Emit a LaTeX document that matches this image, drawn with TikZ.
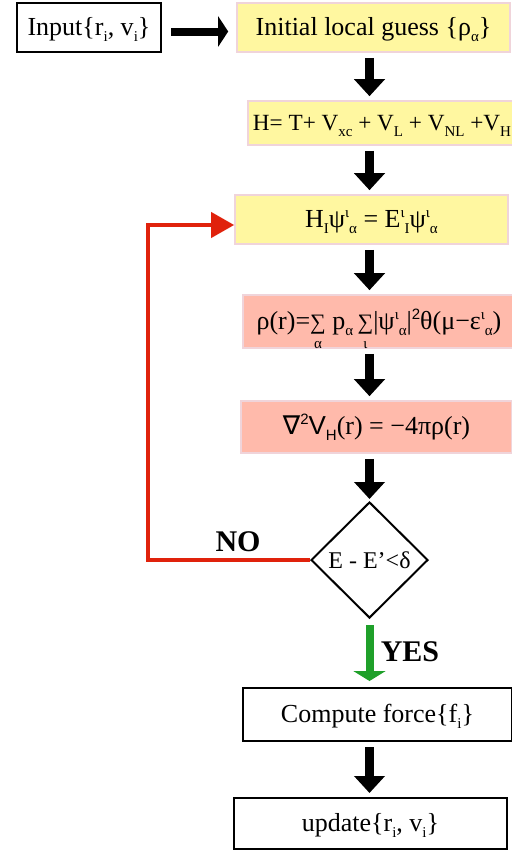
\documentclass[tikz,border=0pt]{standalone}
\usepackage{amsmath}
\usepackage{fontspec}
\setmainfont{Liberation Serif}
\newfontfamily\dejavu{DejaVu Sans}
\newfontfamily\sansf{Liberation Sans}
\usetikzlibrary{arrows.meta,positioning,shapes.geometric}
\definecolor{boxyellow}{HTML}{FFF7A0}
\definecolor{boxpink}{HTML}{F0D4DA}
\definecolor{boxsalmon}{HTML}{FFBAAB}
\definecolor{loopred}{HTML}{E0220C}
\definecolor{yesgreen}{HTML}{1FA02A}
\newcommand{\lo}[1]{\raisebox{-3pt}{\fontsize{7.5}{8}\selectfont #1}}
\newcommand{\hi}[1]{\raisebox{5pt}{\fontsize{7.5}{8}\selectfont #1}}
\newcommand{\bigsum}[1]{\mathop{\text{\fontsize{11}{12}\selectfont ∑}}\limits_{\text{\fontsize{7.5}{8}\selectfont #1}}}

\begin{document}
\begin{tikzpicture}[x=0.5pt,y=-0.5pt,font=\fontsize{13}{15}\selectfont,
plainbox/.style={draw=black,line width=1pt,inner sep=0pt,text height=10pt,text depth=2.5pt},
yellowbox/.style={draw=boxpink,fill=boxyellow,line width=0.8pt,inner sep=0pt,text height=10pt,text depth=2.5pt},
salmonbox/.style={draw=boxpink,fill=boxsalmon,line width=0.8pt,inner sep=0pt,text height=10pt,text depth=2.5pt},
flow/.style={-{Triangle[length=8.5pt,width=15pt]},line width=4.5pt,shorten <=2.5pt,shorten >=2pt},
answer/.style={font=\fontsize{15}{17}\selectfont\bfseries}]
\useasboundingbox (0,0) rectangle (512,852);
% boxes of the loop
\node[plainbox,minimum width=72pt,minimum height=24.5pt] (input) at (89,27.5) {Input\{r\lo{i}, v\lo{i}\}};
\node[yellowbox,minimum width=136.5pt,minimum height=24.5pt] (init) at (373.5,27.5) {Initial local guess \{ρ\lo{α}\}};
\node[yellowbox,minimum width=134pt,minimum height=22pt,font=\fontsize{11.6}{14}\selectfont] (ham) at (382,123) {H= T+ V\lo{xc} + V\lo{L} + V\lo{NL} +V\lo{H}};
\node[yellowbox,minimum width=136.5pt,minimum height=24.5pt] (kohn) at (371.5,219.5) {H\lo{I}ψ\hi{ι}\lo{α} = E\hi{ι}\lo{I}ψ\hi{ι}\lo{α}};
\node[salmonbox,minimum width=136pt,minimum height=26.5pt] (dens) at (379,321.5) {ρ(r)=$\bigsum{α}$ p\lo{α}\,$\bigsum{ι}$|ψ\hi{ι}\lo{α}|{\sansf\hi{2}}θ(μ−ε\hi{ι}\lo{α})};
\node[salmonbox,minimum width=135.5pt,minimum height=26pt] (pois) at (376.5,427) {{\dejavu ∇}{\sansf\hi{2}V\lo{H}}(r) = −4πρ(r)};
\node[diamond,draw=black,line width=1pt,inner sep=0pt,aspect=1,minimum width=58.5pt,minimum height=58pt,font=\fontsize{12}{14}\selectfont] (dia) at (369.5,560) {E - E’<δ};
\node[plainbox,minimum width=134.5pt,minimum height=26.5pt] (force) at (377.5,714.5) {Compute force\{f\lo{i}\}};
\node[plainbox,minimum width=136.5pt,minimum height=25.5pt] (upd) at (370.5,823.5) {update\{r\lo{i}, v\lo{i}\}};
% arrows
\draw[-{Triangle[length=5pt,width=15pt]},line width=4pt,shorten <=4.5pt,shorten >=4pt] ([yshift=-2pt]input.east) -- ([yshift=-2pt]init.west);
\draw[flow] (init.south -| dia) -- (ham.north -| dia);
\draw[flow] (ham.south -| dia) -- (kohn.north -| dia);
\draw[flow] (kohn.south -| dia) -- (dens.north -| dia);
\draw[flow] (dens.south -| dia) -- (pois.north -| dia);
\draw[flow,shorten >=1pt] (pois.south -| dia) -- (dia.north);
\draw[flow,yesgreen,line width=4pt,-{Triangle[length=5pt,width=16pt]},shorten <=3pt,shorten >=3pt] (dia.south) -- (force.north -| dia);
\draw[flow] (force.south -| dia) -- (upd.north -| dia);
\coordinate (back) at (148,560);
\draw[loopred,line width=2pt,-{Triangle[length=11.5pt,width=12.5pt]}] (dia.west) -- (back) |- ([yshift=-2.75pt]kohn.west);
\node[answer] (no) at (238,542) {NO};
\node[answer] (yes) at (410,652) {YES};
\end{tikzpicture}
\end{document}
